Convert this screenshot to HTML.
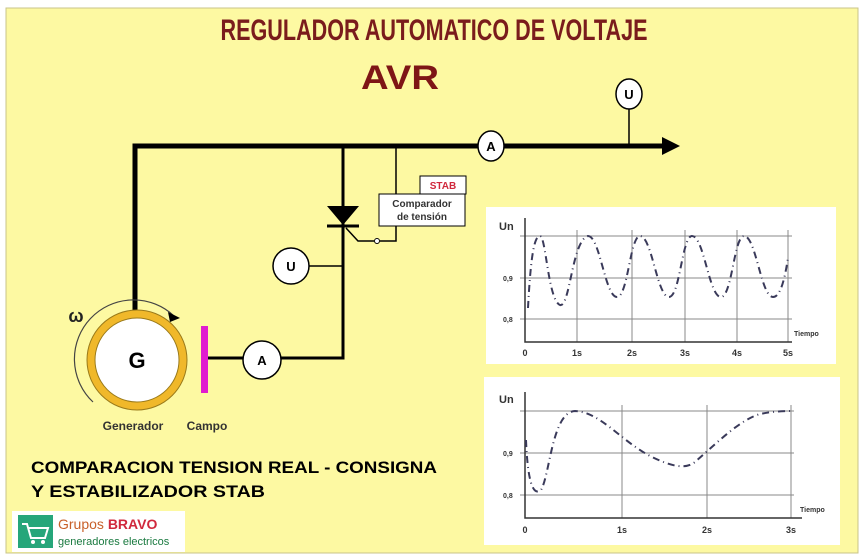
<!DOCTYPE html>
<html><head><meta charset="utf-8"><style>
html,body{margin:0;padding:0;background:#fff;}
svg{display:block;font-family:"Liberation Sans",sans-serif;}
</style></head><body>
<svg width="868" height="560" viewBox="0 0 868 560">
<rect x="0" y="0" width="868" height="560" fill="#fff"/>
<rect x="6" y="8" width="852" height="545" fill="#fdf9a2" stroke="#c9c48a" stroke-width="1"/>
<text x="434" y="40" text-anchor="middle" font-size="30" font-weight="bold" fill="#7a1c1c" transform="translate(434 0) scale(0.72 1) translate(-434 0)">REGULADOR AUTOMATICO DE VOLTAJE</text>
<text x="400" y="89" text-anchor="middle" font-size="34" font-weight="bold" fill="#7e1616" textLength="78" lengthAdjust="spacingAndGlyphs">AVR</text>
<!-- bus -->
<polyline points="135,310 135,146 664,146" fill="none" stroke="#000" stroke-width="5"/>
<polygon points="662,137 680,146 662,155" fill="#000"/>
<line x1="629" y1="108" x2="629" y2="146" stroke="#000" stroke-width="1.5"/>
<ellipse cx="629" cy="94" rx="13" ry="15" fill="#fff" stroke="#000" stroke-width="1.5"/>
<text x="629" y="99" text-anchor="middle" font-size="13" font-weight="bold">U</text>
<ellipse cx="491" cy="146" rx="13" ry="15" fill="#fff" stroke="#000" stroke-width="1.5"/>
<text x="491" y="151" text-anchor="middle" font-size="13" font-weight="bold">A</text>
<!-- thyristor branch -->
<polyline points="343,146 343,358 208,358" fill="none" stroke="#000" stroke-width="3"/>
<polygon points="327,206 359,206 343,225" fill="#000"/>
<line x1="327" y1="226" x2="359" y2="226" stroke="#000" stroke-width="3"/>
<polyline points="346,228 358,241 374,241" fill="none" stroke="#000" stroke-width="1.5"/>
<circle cx="377" cy="241" r="2.5" fill="#fff" stroke="#000" stroke-width="1"/>
<polyline points="380,241 396,241 396,226" fill="none" stroke="#000" stroke-width="1.5"/>
<line x1="396" y1="146" x2="396" y2="194" stroke="#000" stroke-width="1.5"/>
<rect x="420" y="176" width="46" height="18" fill="#fff" stroke="#000" stroke-width="1"/>
<text x="443" y="189" text-anchor="middle" font-size="10" font-weight="bold" fill="#d0283c">STAB</text>
<rect x="379" y="194" width="86" height="32" fill="#fff" stroke="#000" stroke-width="1"/>
<text x="422" y="207" text-anchor="middle" font-size="10" font-weight="bold" fill="#333">Comparador</text>
<text x="422" y="220" text-anchor="middle" font-size="10" font-weight="bold" fill="#333">de tensión</text>
<line x1="305" y1="266" x2="343" y2="266" stroke="#000" stroke-width="1.5"/>
<circle cx="291" cy="266" r="18" fill="#fff" stroke="#000" stroke-width="1.5"/>
<text x="291" y="271" text-anchor="middle" font-size="13" font-weight="bold">U</text>
<circle cx="262" cy="360" r="19" fill="#fff" stroke="#000" stroke-width="1.5"/>
<text x="262" y="365" text-anchor="middle" font-size="13" font-weight="bold">A</text>
<rect x="201" y="326" width="7" height="67" fill="#e01ccf"/>
<!-- generator -->
<circle cx="137" cy="360" r="50" fill="#f0b82a" stroke="#9a7a1a" stroke-width="1"/>
<circle cx="137" cy="360" r="42" fill="#fff" stroke="#9a7a1a" stroke-width="1"/>
<text x="137" y="368" text-anchor="middle" font-size="22" font-weight="bold">G</text>
<path d="M93,402 A58,58 0 0 1 174,316" fill="none" stroke="#444" stroke-width="1.2"/>
<polygon points="168,312 180,318 170,322" fill="#000"/>
<text x="76" y="322" text-anchor="middle" font-size="18" font-weight="bold" fill="#222">ω</text>
<text x="133" y="430" text-anchor="middle" font-size="12" font-weight="bold" fill="#333">Generador</text>
<text x="207" y="430" text-anchor="middle" font-size="12" font-weight="bold" fill="#333">Campo</text>
<text x="31" y="473" font-size="17" font-weight="bold" textLength="406" lengthAdjust="spacingAndGlyphs">COMPARACION TENSION REAL - CONSIGNA</text>
<text x="31" y="497" font-size="17" font-weight="bold" textLength="234" lengthAdjust="spacingAndGlyphs">Y ESTABILIZADOR  STAB</text>
<!-- logo -->
<rect x="12" y="511" width="173" height="41" fill="#fff"/>
<rect x="18" y="515" width="35" height="33" fill="#26a67a"/>
<path d="M22,524 h5 l4,14 h14 l3,-10 h-19" fill="none" stroke="#fff" stroke-width="2"/>
<circle cx="33" cy="542" r="2" fill="#fff"/><circle cx="43" cy="542" r="2" fill="#fff"/>
<text x="58" y="529" font-size="14" fill="#c8602a">Grupos <tspan font-weight="bold" fill="#d0283c">BRAVO</tspan></text>
<text x="58" y="545" font-size="11" fill="#1a7a40">generadores electricos</text>
<!-- chart 1 -->
<rect x="486" y="207" width="350" height="157" fill="#fff"/>
<g stroke="#888" stroke-width="1">
<line x1="520" y1="236" x2="792" y2="236"/><line x1="520" y1="278" x2="792" y2="278"/><line x1="520" y1="319" x2="792" y2="319"/>
<line x1="577" y1="230" x2="577" y2="342"/><line x1="632" y1="230" x2="632" y2="342"/><line x1="685" y1="230" x2="685" y2="342"/><line x1="737" y1="230" x2="737" y2="342"/><line x1="788" y1="230" x2="788" y2="342"/>
</g>
<polyline points="525,218 525,342 792,342" fill="none" stroke="#333" stroke-width="1.5"/>
<text x="499" y="230" font-size="11" font-weight="bold" fill="#333">Un</text>
<g font-size="7" font-weight="bold" fill="#333"><text x="503" y="281">0,9</text><text x="503" y="322">0,8</text><text x="794" y="336">Tiempo</text></g>
<g font-size="9" font-weight="bold" fill="#333" text-anchor="middle"><text x="525" y="356">0</text><text x="577" y="356">1s</text><text x="632" y="356">2s</text><text x="685" y="356">3s</text><text x="737" y="356">4s</text><text x="788" y="356">5s</text></g>
<path d="M528,308 C531,250 535,236 540,236 C546,236 548,300 560,305 C570,308 572,240 588,236 C600,236 605,297 617,297 C628,297 630,236 640,236 C652,236 657,297 669,297 C680,297 682,236 692,236 C704,236 709,297 721,297 C732,297 734,236 744,236 C756,236 761,297 773,297 C782,297 786,270 788,258" fill="none" stroke="#3a3a5a" stroke-width="2" stroke-dasharray="7,4,1,4"/>
<!-- chart 2 -->
<rect x="484" y="377" width="356" height="168" fill="#fff"/>
<g stroke="#888" stroke-width="1">
<line x1="520" y1="411" x2="794" y2="411"/><line x1="520" y1="453" x2="794" y2="453"/><line x1="520" y1="495" x2="794" y2="495"/>
<line x1="622" y1="405" x2="622" y2="518"/><line x1="707" y1="405" x2="707" y2="518"/><line x1="791" y1="405" x2="791" y2="518"/>
</g>
<polyline points="525,392 525,518 802,518" fill="none" stroke="#333" stroke-width="1.5"/>
<text x="499" y="403" font-size="11" font-weight="bold" fill="#333">Un</text>
<g font-size="7" font-weight="bold" fill="#333"><text x="503" y="456">0,9</text><text x="503" y="498">0,8</text><text x="800" y="512">Tiempo</text></g>
<g font-size="9" font-weight="bold" fill="#333" text-anchor="middle"><text x="525" y="533">0</text><text x="622" y="533">1s</text><text x="707" y="533">2s</text><text x="791" y="533">3s</text></g>
<path d="M526,440 C528,490 535,495 541,490 C550,475 552,412 575,411 C600,412 620,440 650,456 C670,466 685,470 695,462 C720,440 740,420 760,414 C775,411 785,411 792,411" fill="none" stroke="#3a3a5a" stroke-width="2" stroke-dasharray="7,4,1,4"/>
</svg>
</body></html>
